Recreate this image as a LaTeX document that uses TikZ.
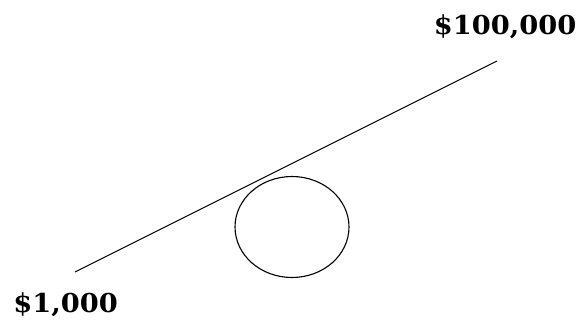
\documentclass[tikz,border=0pt]{standalone}
\usepackage{fontspec}
\setmainfont{DejaVu Serif}
\usetikzlibrary{shapes.geometric}
\begin{document}
\begin{tikzpicture}[x=1pt,y=-1pt,
  lbl/.style={font=\fontsize{26}{28}\selectfont\bfseries, inner sep=0pt, xscale=1.05, anchor=base},
  thinline/.style={line width=1.1pt}]
\useasboundingbox (0,0) rectangle (581,322);
\coordinate (a) at (75,272);
\coordinate (b) at (497,61);
\draw[thinline] (a) -- (b);
\node[draw, thinline, ellipse, minimum width=114, minimum height=101, inner sep=0pt] (c) at (292,227) {};
\node[lbl] (l1) at (65.5,312) {\$1,000};
\node[lbl] (l2) at (505,34) {\$100,000};
\end{tikzpicture}
\end{document}
